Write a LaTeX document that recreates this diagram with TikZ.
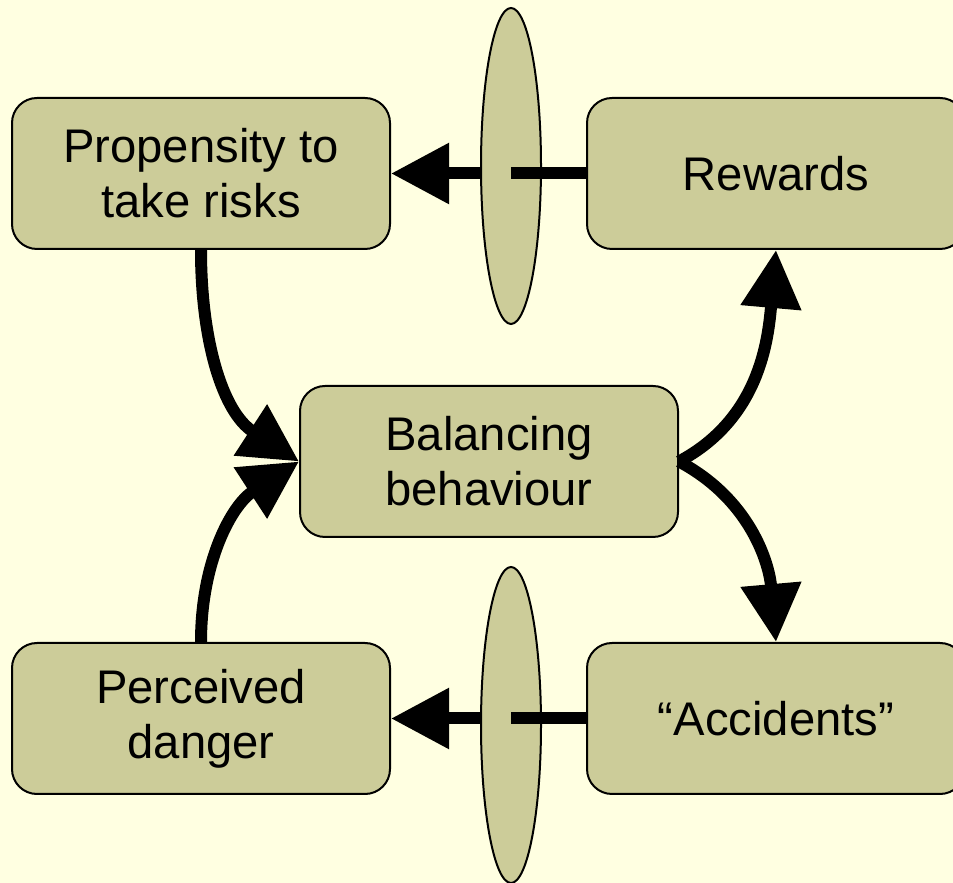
\documentclass[tikz,border=0pt]{standalone}
\usepackage{fontspec}
\setmainfont{Liberation Sans}
\usetikzlibrary{positioning, arrows.meta, shapes.geometric}
\definecolor{bgyellow}{RGB}{255,255,225}
\definecolor{boxolive}{RGB}{204,204,153}

\begin{document}
\begin{tikzpicture}[
        x=0.5pt, y=0.5pt,
        % frecce spesse con punta triangolare piena
        >={Triangle[length=29pt, width=29pt]},
        % blocchi arrotondati color oliva
        block/.style={draw, rectangle, rounded corners=12.5pt, fill=boxolive, line width=1pt,
            minimum width=189pt, minimum height=75.5pt, align=center,
            font=\fontsize{23.6}{27.5}\selectfont},
        % ellissi che interrompono il collegamento
        valve/.style={draw, ellipse, fill=boxolive, line width=1pt, inner sep=0pt,
            minimum width=30pt, minimum height=158pt},
        link/.style={line width=6pt},
        node distance=196pt and 97.5pt
    ]
        % Sfondo
        \fill[bgyellow] (0,0) rectangle (953,883);
        \useasboundingbox (0,0) rectangle (953,883);

        % Nodi
        \node[block] (propensity) at (201,709.5) {Propensity to\\take risks};
        \node[block, right=of propensity] (rewards) {Rewards};
        \node[block, below=of propensity] (danger) {Perceived\\danger};
        \node[block, right=of danger] (accidents) {``Accidents''};
        \node[block] (balance) at (489,421.5) {Balancing\\behaviour};

        % Collegamenti orizzontali, con l'ellisse sopra
        \draw[link, ->] (rewards) -- (propensity);
        \node[valve] (valvetop) at (511,717) {};
        \draw[link] (valvetop.center |- rewards.west) -- (rewards.west);

        \draw[link, ->] (accidents) -- (danger);
        \node[valve] (valvebottom) at (511,158) {};
        \draw[link] (valvebottom.center |- accidents.west) -- (accidents.west);

        % Frecce curve
        \draw[link, ->] (propensity.south) to[out=-90, in=147] (balance.west);
        \draw[link, ->] (danger.north) to[out=90, in=-147] (balance.west);
        \draw[link, ->] (balance.east) to[out=28, in=-95] (rewards.south);
        \draw[link, ->] (balance.east) to[out=-28, in=95] (accidents.north);

    \end{tikzpicture}
\end{document}
